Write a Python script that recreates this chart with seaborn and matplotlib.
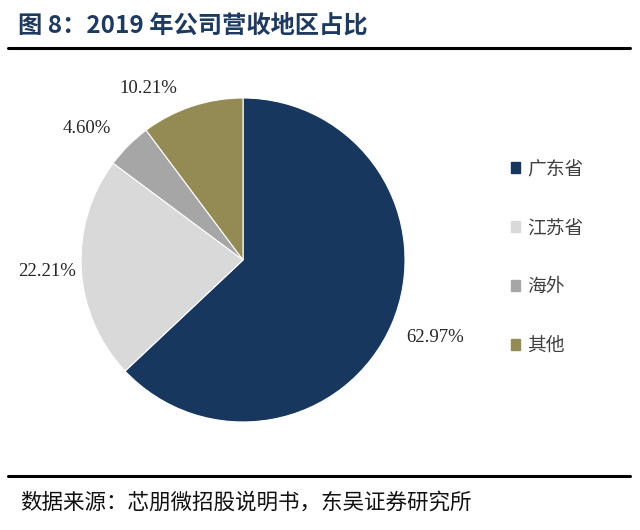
import matplotlib
matplotlib.use("Agg")
import numpy as np
import matplotlib.pyplot as plt
import seaborn as sns
from matplotlib.lines import Line2D
from matplotlib.patches import Patch

regions = ["广东省", "江苏省", "海外", "其他"]
shares = [62.97, 22.21, 4.60, 10.21]
colors = ["#17375E", "#D9D9D9", "#A6A6A6", "#948A54"]
title = "图 8：2019 年公司营收地区占比"
source = "数据来源：芯朋微招股说明书，东吴证券研究所"

# label placement (distance from centre in radii, angular nudge in degrees)
label_dist = [1.28, 1.21, 1.26, 1.21]
label_nudge = [1.5, 0.0, 4.7, 10.5]

sns.set_theme(style="white")
plt.rcParams['font.family'] = ['Noto Sans CJK SC', 'DejaVu Sans']

fig = plt.figure(figsize=(6.4, 5.3), dpi=100)
fig.patch.set_facecolor("white")

ax = fig.add_axes([0.1266, 0.2038, 0.50625, 0.6113])
wedges, texts = ax.pie(
    shares, colors=colors, startangle=90, counterclock=False,
    labels=[f"{v:.2f}%" for v in shares], labeldistance=1.24,
    wedgeprops=dict(linewidth=0.8, edgecolor="white"),
    textprops=dict(family=['Liberation Serif'], fontsize=13.5, color="#262626"),
)
for w, t, d, n in zip(wedges, texts, label_dist, label_nudge):
    ang = np.deg2rad((w.theta1 + w.theta2) / 2 + n)
    t.set_position((d * np.cos(ang), d * np.sin(ang)))
    t.set_ha("center")
    t.set_va("center")
ax.set_xlim(-1, 1)
ax.set_ylim(-1, 1)
ax.set_aspect("equal")

handles = [Patch(facecolor=c, edgecolor=c) for c in colors]
fig.legend(handles, regions, loc="upper left", bbox_to_anchor=(0.772, 0.733),
           frameon=False, fontsize=13.5, handlelength=0.5, handleheight=0.5,
           handletextpad=0.35, labelspacing=2.02, labelcolor="#404040")

fig.text(0.028, 0.952, title, fontsize=17.5, fontweight="bold", color="#1F3A5F",
         ha="left", va="center")
fig.add_artist(Line2D([0.013, 0.985], [0.909, 0.909], color="black", linewidth=2.2,
                      transform=fig.transFigure))
fig.add_artist(Line2D([0.013, 0.985], [0.102, 0.102], color="black", linewidth=2.2,
                      transform=fig.transFigure))
fig.text(0.031, 0.051, source, fontsize=15.5, color="#111111", ha="left", va="center")

fig.savefig("out.png", dpi=100, facecolor="white")
